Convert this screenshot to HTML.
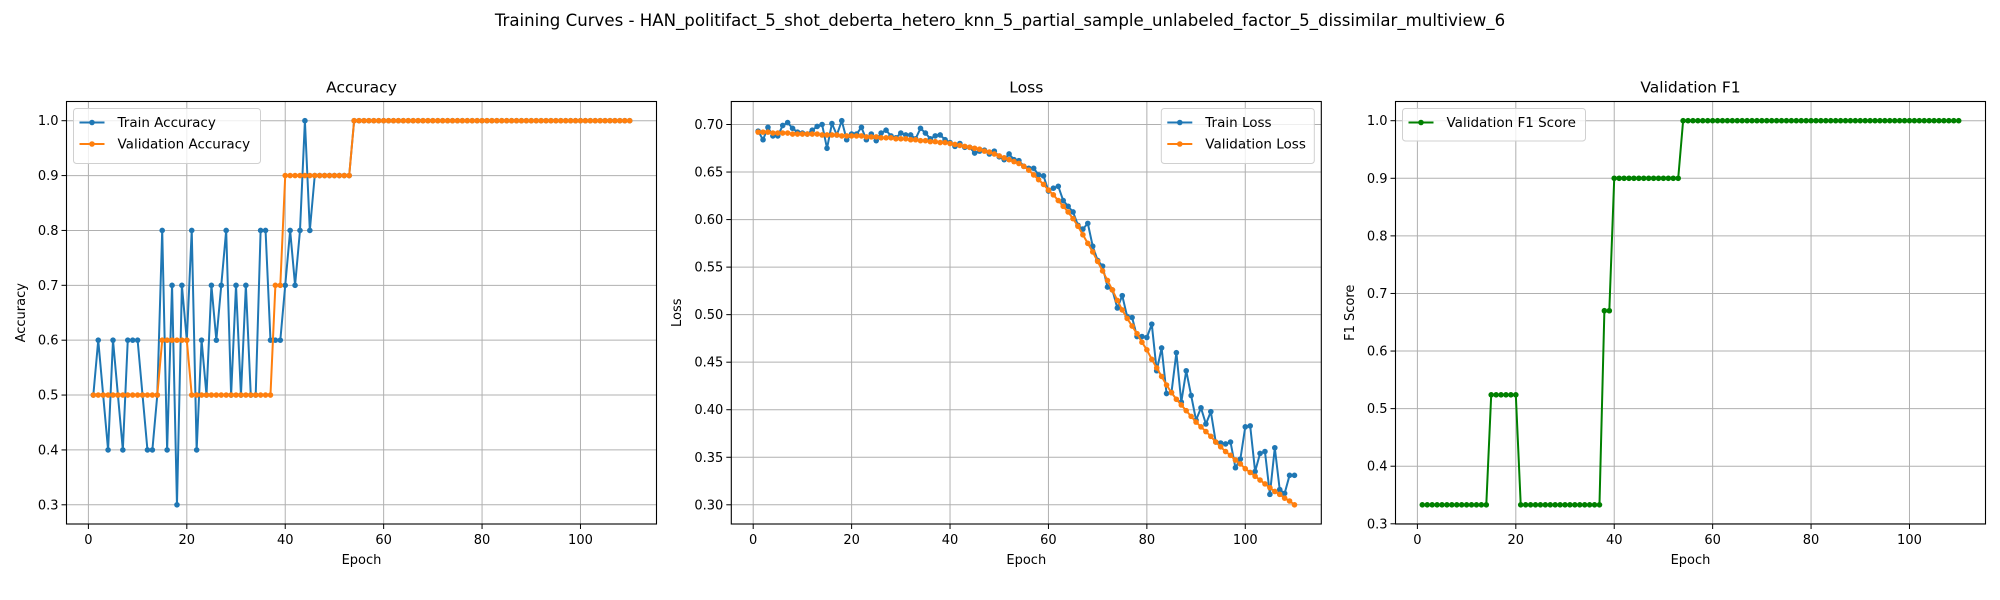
<!DOCTYPE html>
<html><head><meta charset="utf-8">
<style>
html,body{margin:0;padding:0;background:#fff;}
svg{display:block;font-family:"DejaVu Sans","Liberation Sans",sans-serif;}
</style></head>
<body>
<svg id="fig" width="2000" height="600" viewBox="0 0 2000 600" xmlns="http://www.w3.org/2000/svg">
<rect width="2000" height="600" fill="#fff"/>
<text x="1000" y="26" text-anchor="middle" font-size="16.6" fill="#000">Training Curves - HAN_politifact_5_shot_deberta_hetero_knn_5_partial_sample_unlabeled_factor_5_dissimilar_multiview_6</text>
</svg>
<script>
const trainAcc = [0.5,0.6,0.5,0.4,0.6,0.5,0.4,0.6,0.6,0.6,0.5,0.4,0.4,0.5,0.8,0.4,0.7,0.3,0.7,0.6,0.8,0.4,0.6,0.5,0.7,0.6,0.7,0.8,0.5,0.7,0.5,0.7,0.5,0.5,0.8,0.8,0.6,0.6,0.6,0.7,0.8,0.7,0.8,1.0,0.8,0.9,0.9,0.9,0.9,0.9,0.9,0.9,0.9,1,1,1,1,1,1,1,1,1,1,1,1,1,1,1,1,1,1,1,1,1,1,1,1,1,1,1,1,1,1,1,1,1,1,1,1,1,1,1,1,1,1,1,1,1,1,1,1,1,1,1,1,1,1,1,1,1];
const valAcc = [0.5,0.5,0.5,0.5,0.5,0.5,0.5,0.5,0.5,0.5,0.5,0.5,0.5,0.5,0.6,0.6,0.6,0.6,0.6,0.6,0.5,0.5,0.5,0.5,0.5,0.5,0.5,0.5,0.5,0.5,0.5,0.5,0.5,0.5,0.5,0.5,0.5,0.7,0.7,0.9,0.9,0.9,0.9,0.9,0.9,0.9,0.9,0.9,0.9,0.9,0.9,0.9,0.9,1,1,1,1,1,1,1,1,1,1,1,1,1,1,1,1,1,1,1,1,1,1,1,1,1,1,1,1,1,1,1,1,1,1,1,1,1,1,1,1,1,1,1,1,1,1,1,1,1,1,1,1,1,1,1,1,1];
const trainLoss = [0.693,0.684,0.697,0.688,0.688,0.699,0.702,0.696,0.692,0.691,
0.690,0.694,0.698,0.700,0.675,0.701,0.689,0.704,0.684,0.690,
0.690,0.697,0.684,0.690,0.683,0.691,0.694,0.688,0.686,0.691,
0.689,0.689,0.685,0.696,0.691,0.685,0.688,0.689,0.684,0.681,
0.677,0.680,0.676,0.676,0.670,0.672,0.673,0.669,0.672,0.666,
0.663,0.669,0.663,0.662,0.656,0.654,0.654,0.647,0.646,0.630,
0.633,0.635,0.620,0.614,0.608,0.594,0.590,0.596,0.572,0.557,
0.551,0.529,0.526,0.507,0.520,0.498,0.497,0.477,0.477,0.476,
0.490,0.441,0.465,0.417,0.418,0.460,0.408,0.441,0.415,0.389,
0.402,0.385,0.398,0.366,0.365,0.364,0.366,0.339,0.348,0.382,
0.383,0.335,0.354,0.356,0.311,0.360,0.316,0.312,0.331,0.331];
const valLoss = [0.692,0.692,0.692,0.691,0.691,0.691,0.691,0.690,0.690,0.690,
0.690,0.690,0.690,0.689,0.689,0.689,0.689,0.688,0.688,0.688,
0.688,0.688,0.687,0.687,0.687,0.686,0.686,0.686,0.685,0.685,
0.685,0.684,0.684,0.683,0.683,0.682,0.682,0.681,0.681,0.680,
0.679,0.678,0.677,0.676,0.675,0.674,0.672,0.671,0.669,0.667,
0.665,0.663,0.661,0.659,0.656,0.652,0.647,0.642,0.637,0.631,
0.626,0.620,0.614,0.608,0.601,0.593,0.584,0.575,0.566,0.556,
0.546,0.536,0.526,0.515,0.505,0.496,0.488,0.480,0.471,0.463,
0.453,0.444,0.435,0.426,0.418,0.411,0.405,0.399,0.393,0.387,
0.382,0.377,0.372,0.366,0.361,0.356,0.352,0.347,0.343,0.338,
0.334,0.330,0.326,0.322,0.318,0.314,0.311,0.307,0.304,0.300];
const valF1 = [0.333,0.333,0.333,0.333,0.333,0.333,0.333,0.333,0.333,0.333,0.333,0.333,0.333,0.333,0.524,0.524,0.524,0.524,0.524,0.524,0.333,0.333,0.333,0.333,0.333,0.333,0.333,0.333,0.333,0.333,0.333,0.333,0.333,0.333,0.333,0.333,0.333,0.67,0.67,0.9,0.9,0.9,0.9,0.9,0.9,0.9,0.9,0.9,0.9,0.9,0.9,0.9,0.9,1,1,1,1,1,1,1,1,1,1,1,1,1,1,1,1,1,1,1,1,1,1,1,1,1,1,1,1,1,1,1,1,1,1,1,1,1,1,1,1,1,1,1,1,1,1,1,1,1,1,1,1,1,1,1,1,1];
const xTicks = [0,20,40,60,80,100];
const accTicks = [0.3,0.4,0.5,0.6,0.7,0.8,0.9,1.0];
const lossTicks = [0.30,0.35,0.40,0.45,0.50,0.55,0.60,0.65,0.70];
const f1Ticks = [0.3,0.4,0.5,0.6,0.7,0.8,0.9,1.0];

const NS = "http://www.w3.org/2000/svg";
const fig = document.getElementById('fig');
function mk(tag, attrs, parent){ const e=document.createElementNS(NS,tag); for(const k in attrs) e.setAttribute(k,attrs[k]); (parent||fig).appendChild(e); return e; }

function allMin(arrs){return Math.min(...arrs.map(a=>Math.min(...a)));}
function allMax(arrs){return Math.max(...arrs.map(a=>Math.max(...a)));}

function panel(opt){
  const L=opt.left, T=101.5, W=590, H=422.5;
  const n = opt.series[0].data.length;
  const xr = n-1, xmin = 1-0.05*xr, xmax = n+0.05*xr;
  const dmin = allMin(opt.series.map(s=>s.data)), dmax = allMax(opt.series.map(s=>s.data));
  const ymin = dmin-0.05*(dmax-dmin), ymax = dmax+0.05*(dmax-dmin);
  const sx = v => L + (v-xmin)/(xmax-xmin)*W;
  const sy = v => T + H - (v-ymin)/(ymax-ymin)*H;
  const g = mk('g',{});
  
  
  xTicks.forEach(t=>{
    const x=sx(t);
    const gl=mk('line',{x1:x,x2:x,y1:T,y2:T+H,stroke:'#b0b0b0','stroke-width':1},g);
    
    
    mk('line',{x1:x,x2:x,y1:T+H,y2:T+H+5,stroke:'#000','stroke-width':1},g);
    const tl=mk('text',{x:x,y:T+H+20,'text-anchor':'middle','font-size':13,fill:'#000'},g);
    tl.textContent=String(t);
    
    
  });
  opt.yTicks.forEach(t=>{
    const y=sy(t);
    const gl=mk('line',{x1:L,x2:L+W,y1:y,y2:y,stroke:'#b0b0b0','stroke-width':1},g);
    
    
    mk('line',{x1:L-5,x2:L,y1:y,y2:y,stroke:'#000','stroke-width':1},g);
    const tl=mk('text',{x:L-8,y:y+4.5,'text-anchor':'end','font-size':13,fill:'#000'},g);
    tl.textContent=t.toFixed(opt.dec);
    
    
  });
  opt.series.forEach(s=>{
    const sg=mk('g',{},g);
    
    
    const pts=s.data.map((v,i)=>sx(i+1).toFixed(2)+','+sy(v).toFixed(2)).join(' ');
    const pl=mk('polyline',{points:pts,fill:'none',stroke:s.color,'stroke-width':2,'stroke-linejoin':'round'},sg);
    
    
    s.data.forEach((v,i)=>{
      const c=mk('circle',{cx:sx(i+1),cy:sy(v),r:2.8,fill:s.color},sg);
      
      
    });
  });
  const fr=mk('rect',{x:L,y:T,width:W,height:H,fill:'none',stroke:'#000','stroke-width':1.1},g);
  
  
  const tt=mk('text',{x:L+W/2,y:T-9,'text-anchor':'middle','font-size':15.5,fill:'#000'},g);
  tt.textContent=opt.title;
  
  
  const xl=mk('text',{x:L+W/2,y:T+H+40,'text-anchor':'middle','font-size':13,fill:'#000'},g);
  xl.textContent='Epoch';
  
  
  const yl=mk('text',{x:0,y:0,'text-anchor':'middle','font-size':13,fill:'#000',transform:`translate(${opt.ylabX},${T+H/2}) rotate(-90)`},g);
  yl.textContent=opt.ylabel;
  
  
  const lg=mk('g',{},g);
  
  
  const lw=opt.legW, lh=10+opt.series.length*22.5;
  const lx = opt.legRight ? L+W-7-lw : L+7;
  const ly = T+7;
  mk('rect',{x:lx,y:ly,width:lw,height:lh,rx:3,fill:'#fff','fill-opacity':0.8,stroke:'#d0d0d0','stroke-width':1},lg);
  opt.series.forEach((s,i)=>{
    const yy=ly+14+i*21.5;
    const e=mk('g',{},lg);
    
    
    mk('line',{x1:lx+6,x2:lx+31,y1:yy,y2:yy,stroke:s.color,'stroke-width':2},e);
    mk('circle',{cx:lx+18.5,cy:yy,r:2.8,fill:s.color},e);
    const t=mk('text',{x:lx+44,y:yy+4.5,'font-size':13.5,fill:'#000'},e);
    t.textContent=s.label;
  });
}

panel({name:'accuracy',left:66.5,title:'Accuracy',ylabel:'Accuracy',ylabX:25,yTicks:accTicks,dec:1,legW:187,legRight:false,
  series:[{key:'train-accuracy',label:'Train Accuracy',color:'#1f77b4',data:trainAcc},
          {key:'validation-accuracy',label:'Validation Accuracy',color:'#ff7f0e',data:valAcc}]});
panel({name:'loss',left:731.3,title:'Loss',ylabel:'Loss',ylabX:681,yTicks:lossTicks,dec:2,legW:153,legRight:true,
  series:[{key:'train-loss',label:'Train Loss',color:'#1f77b4',data:trainLoss},
          {key:'validation-loss',label:'Validation Loss',color:'#ff7f0e',data:valLoss}]});
panel({name:'validation-f1',left:1395.5,title:'Validation F1',ylabel:'F1 Score',ylabX:1354,yTicks:f1Ticks,dec:1,legW:183,legRight:false,
  series:[{key:'validation-f1',label:'Validation F1 Score',color:'#008000',data:valF1}]});
</script>
</body></html>
